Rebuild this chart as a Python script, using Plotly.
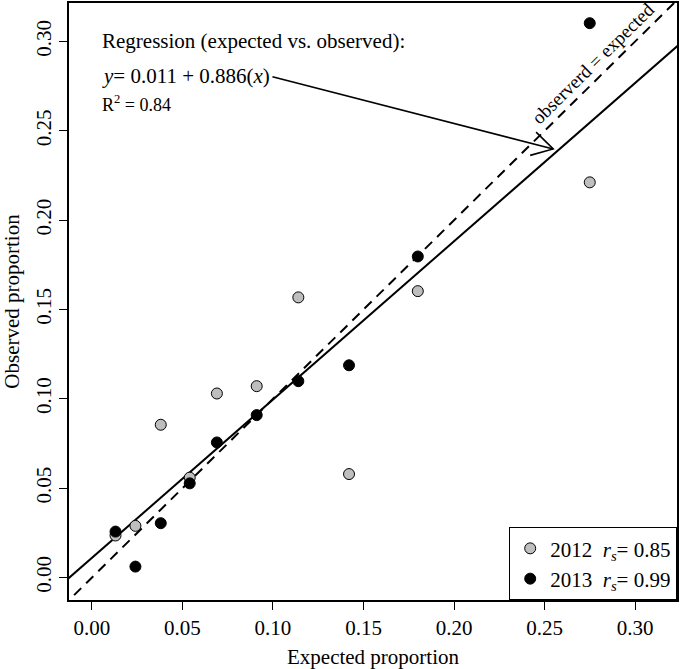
import plotly.graph_objects as go
import math

# ---- data ----
expected = [0.013, 0.024, 0.038, 0.054, 0.069, 0.091, 0.114, 0.142, 0.180, 0.275]
obs_2012 = [0.0235, 0.0289, 0.0855, 0.0559, 0.1030, 0.1071, 0.1568, 0.0579, 0.1603, 0.2212]
obs_2013 = [0.0257, 0.0061, 0.0304, 0.0527, 0.0756, 0.0909, 0.1099, 0.1188, 0.1797, 0.3103]
intercept = 0.011
slope = 0.886
x_ticks = [0.00, 0.05, 0.10, 0.15, 0.20, 0.25, 0.30]
y_ticks = [0.00, 0.05, 0.10, 0.15, 0.20, 0.25, 0.30]
label_2012 = "2012&nbsp;&nbsp;<i>r</i><sub><i>s</i></sub>= 0.85"
label_2013 = "2013&nbsp;&nbsp;<i>r</i><sub><i>s</i></sub>= 0.99"

W, H = 680, 669
ML, MR, MT, MB = 69, 1, 2, 69
xr = [-0.0127, 0.3232]
yr = [-0.0126, 0.3216]
FONT = "Liberation Serif, Times New Roman, serif"

fig = go.Figure()

line_x = [-0.05, 0.40]
# observed = expected (dashed)
fig.add_trace(go.Scatter(x=line_x, y=line_x, mode="lines",
                         line=dict(color="black", width=2, dash="10px,7px"),
                         showlegend=False, hoverinfo="skip"))
# regression line
fig.add_trace(go.Scatter(x=line_x, y=[intercept + slope * v for v in line_x], mode="lines",
                         line=dict(color="black", width=2),
                         showlegend=False, hoverinfo="skip"))

fig.add_trace(go.Scatter(x=expected, y=obs_2012, mode="markers", name=label_2012,
                         marker=dict(size=11, color="#bebebe", line=dict(color="black", width=1))))
fig.add_trace(go.Scatter(x=expected, y=obs_2013, mode="markers", name=label_2013,
                         marker=dict(size=11, color="black", line=dict(color="black", width=1))))

# arrow from equation to regression line (open head)
px_x = (W - ML - MR) / (xr[1] - xr[0])
px_y = (H - MT - MB) / (yr[1] - yr[0])
tail = (0.0997, 0.2803)
tip = (0.2548, 0.2399)
fig.add_shape(type="line", x0=tail[0], y0=tail[1], x1=tip[0], y1=tip[1],
              line=dict(color="black", width=1.6))
dxp = (tail[0] - tip[0]) * px_x
dyp = (tail[1] - tip[1]) * px_y
ang = math.atan2(dyp, dxp)
L = 24
pts = []
for a in (ang + math.radians(30), ang - math.radians(30)):
    pts.append((tip[0] + L * math.cos(a) / px_x, tip[1] + L * math.sin(a) / px_y))
path = "M{},{} L{},{} L{},{}".format(pts[0][0], pts[0][1], tip[0], tip[1], pts[1][0], pts[1][1])
fig.add_shape(type="path", path=path, line=dict(color="black", width=1.6))

fig.add_annotation(x=0.0042, y=0.3004, xref="x", yref="y", xanchor="left", yanchor="middle",
                   text="Regression (expected vs. observed):", showarrow=False,
                   font=dict(size=21, family=FONT, color="black"))
fig.add_annotation(x=0.0042, y=0.2808, xref="x", yref="y", xanchor="left", yanchor="middle",
                   text="<i>y</i>= 0.011 + 0.886(<i>x</i>)", showarrow=False,
                   font=dict(size=21, family=FONT, color="black"))
fig.add_annotation(x=0.0042, y=0.2652, xref="x", yref="y", xanchor="left", yanchor="middle",
                   text="R<sup>2</sup> = 0.84", showarrow=False,
                   font=dict(size=18, family=FONT, color="black"))
fig.add_annotation(x=0.2766, y=0.2880, xref="x", yref="y", xanchor="center", yanchor="middle",
                   text="observerd = expected", showarrow=False, textangle=-44.6,
                   font=dict(size=19, family=FONT, color="black"))

axis_common = dict(showgrid=False, zeroline=False, showline=True, linecolor="black", linewidth=1.5,
                   mirror=True, ticks="outside", ticklen=8, tickwidth=1.2, tickcolor="black",
                   tickformat=".2f", tickfont=dict(size=21, family=FONT, color="black"))

fig.update_xaxes(range=xr, tickvals=x_ticks, **axis_common,
                 title=dict(text="Expected proportion", font=dict(size=21, family=FONT, color="black"),
                            standoff=10))
fig.update_yaxes(range=yr, tickvals=y_ticks, tickangle=-90, **axis_common,
                 title=dict(text="Observed proportion", font=dict(size=21, family=FONT, color="black"),
                            standoff=8))

fig.update_layout(
    width=W, height=H,
    margin=dict(l=ML, r=MR, t=MT, b=MB),
    plot_bgcolor="white", paper_bgcolor="white",
    font=dict(family=FONT, color="black"),
    legend=dict(x=1, y=0, xanchor="right", yanchor="bottom", bgcolor="white",
                bordercolor="black", borderwidth=1.2,
                font=dict(size=21, family=FONT, color="black")),
)

fig.write_html("out.html", config={"displayModeBar": False},
               post_script="document.body.style.margin='0';document.body.style.overflow='hidden';")
